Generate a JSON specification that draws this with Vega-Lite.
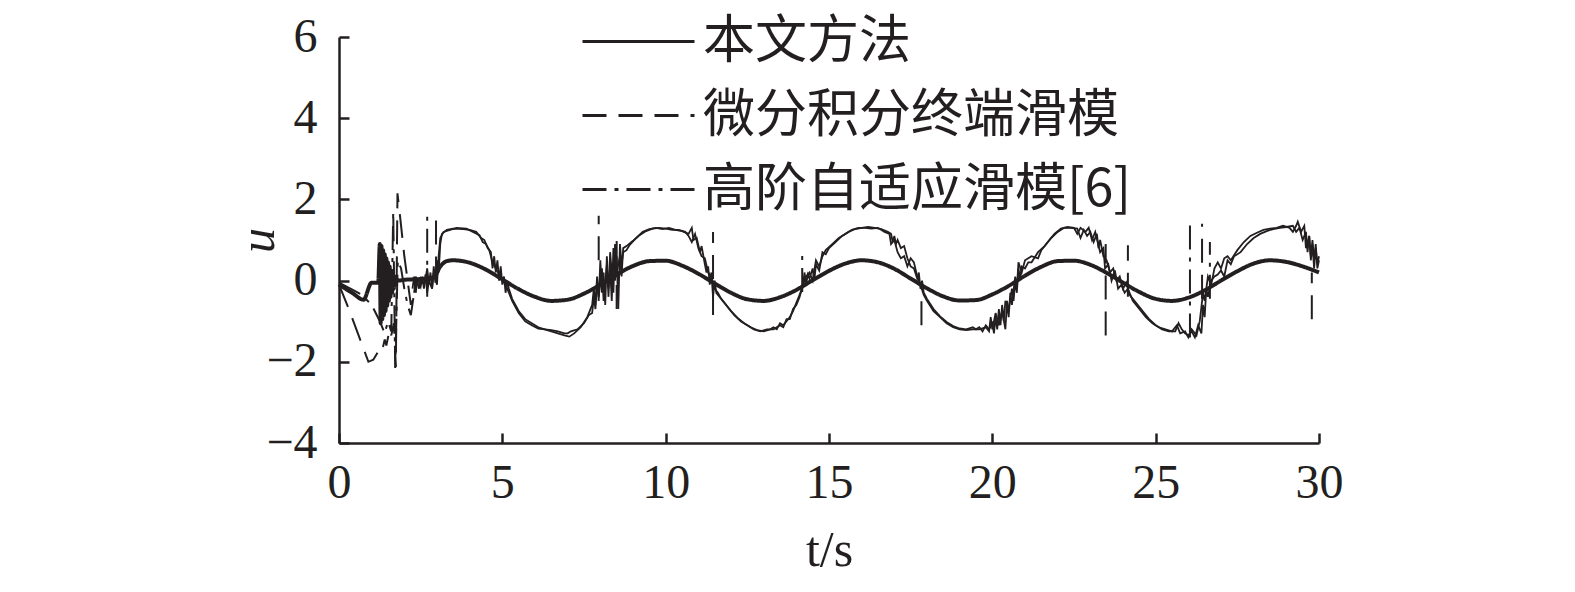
{
"$schema": "https://vega.github.io/schema/vega-lite/v6.json",
"width": 980, "height": 406,
"autosize": {"type": "none"},
"padding": {"left": 339, "top": 37, "right": 256, "bottom": 149},
"background": "white",
"config": {"view": {"stroke": null}, "font": "Liberation Serif"},
"datasets": {
"ours": [
{"s":"本文方法","t":0,"u":-0.1},{"s":"本文方法","t":0.4,"u":-0.3},{"s":"本文方法","t":0.75,"u":-0.47},{"s":"本文方法","t":1.0,"u":-0.05},{"s":"本文方法","t":1.2,"u":-0.05},
{"s":"本文方法","t":1.25,"u":0.9},{"s":"本文方法","t":1.275,"u":-1.05},{"s":"本文方法","t":1.3,"u":0.85},{"s":"本文方法","t":1.325,"u":-0.95},{"s":"本文方法","t":1.35,"u":0.75},{"s":"本文方法","t":1.375,"u":-0.85},{"s":"本文方法","t":1.4,"u":0.65},{"s":"本文方法","t":1.425,"u":-0.75},{"s":"本文方法","t":1.45,"u":0.55},{"s":"本文方法","t":1.475,"u":-0.62},{"s":"本文方法","t":1.5,"u":0.45},{"s":"本文方法","t":1.525,"u":-0.5},{"s":"本文方法","t":1.55,"u":0.35},{"s":"本文方法","t":1.575,"u":-0.4},{"s":"本文方法","t":1.6,"u":0.25},{"s":"本文方法","t":1.625,"u":-0.3},{"s":"本文方法","t":1.65,"u":0.18},{"s":"本文方法","t":1.675,"u":-0.2},{"s":"本文方法","t":1.7,"u":0.1},{"s":"本文方法","t":1.725,"u":-0.1},{"s":"本文方法","t":1.75,"u":0.05},{"s":"本文方法","t":1.8,"u":0.0},
{"s":"本文方法","t":2.0,"u":0.02},{"s":"本文方法","t":2.5,"u":0.04},{"s":"本文方法","t":2.9,"u":0.08},{"s":"本文方法","t":3.1,"u":0.35},{"s":"本文方法","t":3.3,"u":0.48},{"s":"本文方法","t":3.5,"u":0.5},{"s":"本文方法","t":4.0,"u":0.44},{"s":"本文方法","t":4.5,"u":0.27},{"s":"本文方法","t":5.0,"u":0.03},{"s":"本文方法","t":5.5,"u":-0.21},{"s":"本文方法","t":6.0,"u":-0.4},{"s":"本文方法","t":6.5,"u":-0.5},{"s":"本文方法","t":7.0,"u":-0.47},{"s":"本文方法","t":7.5,"u":-0.32},{"s":"本文方法","t":8.0,"u":-0.1},{"s":"本文方法","t":8.5,"u":0.15},{"s":"本文方法","t":9.0,"u":0.36},{"s":"本文方法","t":9.5,"u":0.48},{"s":"本文方法","t":10.0,"u":0.49},{"s":"本文方法","t":10.5,"u":0.37},{"s":"本文方法","t":11.0,"u":0.17},{"s":"本文方法","t":11.5,"u":-0.07},{"s":"本文方法","t":12.0,"u":-0.3},{"s":"本文方法","t":12.5,"u":-0.46},{"s":"本文方法","t":13.0,"u":-0.5},{"s":"本文方法","t":13.5,"u":-0.41},{"s":"本文方法","t":14.0,"u":-0.23},{"s":"本文方法","t":14.5,"u":0.01},{"s":"本文方法","t":15.0,"u":0.24},{"s":"本文方法","t":15.5,"u":0.42},{"s":"本文方法","t":16.0,"u":0.5},{"s":"本文方法","t":16.5,"u":0.45},{"s":"本文方法","t":17.0,"u":0.29},{"s":"本文方法","t":17.5,"u":0.05},{"s":"本文方法","t":18.0,"u":-0.19},{"s":"本文方法","t":18.5,"u":-0.39},{"s":"本文方法","t":19.0,"u":-0.49},{"s":"本文方法","t":19.5,"u":-0.48},{"s":"本文方法","t":20.0,"u":-0.34},{"s":"本文方法","t":20.5,"u":-0.13},{"s":"本文方法","t":21.0,"u":0.12},{"s":"本文方法","t":21.5,"u":0.34},{"s":"本文方法","t":22.0,"u":0.48},{"s":"本文方法","t":22.5,"u":0.49},{"s":"本文方法","t":23.0,"u":0.39},{"s":"本文方法","t":23.5,"u":0.19},{"s":"本文方法","t":24.0,"u":-0.05},{"s":"本文方法","t":24.5,"u":-0.28},{"s":"本文方法","t":25.0,"u":-0.45},{"s":"本文方法","t":25.5,"u":-0.5},{"s":"本文方法","t":26.0,"u":-0.42},{"s":"本文方法","t":26.5,"u":-0.24},{"s":"本文方法","t":27.0,"u":0.0},{"s":"本文方法","t":27.5,"u":0.23},{"s":"本文方法","t":28.0,"u":0.42},{"s":"本文方法","t":28.5,"u":0.5},{"s":"本文方法","t":29.0,"u":0.46},{"s":"本文方法","t":29.5,"u":0.35},{"s":"本文方法","t":30.0,"u":0.2}
],
"denseA": [
{"t":2.25,"u":-0.2},{"t":2.3,"u":0.1},{"t":2.35,"u":-0.3},{"t":2.4,"u":0.05},{"t":2.5,"u":-0.15},{"t":2.55,"u":0.1},{"t":2.6,"u":-0.2},{"t":2.7,"u":0.3},{"t":2.75,"u":-0.1},{"t":2.8,"u":0.2},{"t":2.85,"u":-0.2},{"t":2.9,"u":0.35},{"t":2.95,"u":-0.05},{"t":3.0,"u":0.5},{"t":3.05,"u":0.2},{"t":3.1,"u":0.9},{"t":3.15,"u":1.15},{"t":3.3,"u":1.25},{"t":3.5,"u":1.28},{"t":3.8,"u":1.27},{"t":4.0,"u":1.25},{"t":4.2,"u":1.2},{"t":4.35,"u":1.05},{"t":4.45,"u":1.0},{"t":4.55,"u":0.8},{"t":4.65,"u":0.7},{"t":4.7,"u":0.3},{"t":4.75,"u":0.6},{"t":4.8,"u":0.2},{"t":4.85,"u":0.5},{"t":4.9,"u":0.0},{"t":4.95,"u":0.35},{"t":5.0,"u":-0.1},{"t":5.05,"u":0.1},{"t":5.1,"u":-0.3},{"t":5.15,"u":0.0},{"t":5.2,"u":-0.2},{"t":5.3,"u":-0.45},{"t":5.4,"u":-0.6},{"t":5.5,"u":-0.75},{"t":5.7,"u":-0.95},{"t":5.9,"u":-1.05},{"t":6.1,"u":-1.15},{"t":6.3,"u":-1.2},{"t":6.5,"u":-1.25},{"t":6.7,"u":-1.3},{"t":6.9,"u":-1.35},{"t":7.05,"u":-1.38},{"t":7.2,"u":-1.3},{"t":7.4,"u":-1.15},{"t":7.6,"u":-0.9},{"t":7.75,"u":-0.6},{"t":7.8,"u":-0.2},{"t":7.85,"u":-0.6},{"t":7.9,"u":0.1},{"t":7.95,"u":-0.5},{"t":8.0,"u":0.5},{"t":8.05,"u":-0.3},{"t":8.1,"u":0.2},{"t":8.15,"u":-0.6},{"t":8.2,"u":0.6},{"t":8.25,"u":-0.2},{"t":8.3,"u":0.3},{"t":8.35,"u":-0.5},{"t":8.4,"u":0.8},{"t":8.45,"u":0.0},{"t":8.5,"u":0.6},{"t":8.55,"u":-0.7},{"t":8.6,"u":0.9},{"t":8.65,"u":0.4},{"t":8.7,"u":0.7},{"t":8.8,"u":0.75},{"t":8.9,"u":0.88},{"t":9.1,"u":1.05},{"t":9.3,"u":1.2},{"t":9.5,"u":1.27},{"t":9.7,"u":1.3},{"t":9.9,"u":1.27},{"t":10.1,"u":1.3},{"t":10.3,"u":1.25},{"t":10.5,"u":1.22},{"t":10.7,"u":1.15},{"t":10.8,"u":1.3},{"t":10.85,"u":1.0},{"t":10.95,"u":1.05},{"t":11.05,"u":0.7},{"t":11.1,"u":0.85},{"t":11.2,"u":0.4},{"t":11.25,"u":0.2},{"t":11.3,"u":0.35},{"t":11.35,"u":-0.1},{"t":11.4,"u":0.2},{"t":11.45,"u":-0.4},{"t":11.5,"u":0.0},{"t":11.55,"u":-0.3},{"t":11.65,"u":-0.4},{"t":11.8,"u":-0.55},{"t":12.0,"u":-0.75},{"t":12.2,"u":-0.92},{"t":12.4,"u":-1.05},{"t":12.6,"u":-1.15},{"t":12.8,"u":-1.22},{"t":13.0,"u":-1.25},{"t":13.2,"u":-1.2},{"t":13.3,"u":-1.15},{"t":13.4,"u":-1.2},{"t":13.5,"u":-1.05},{"t":13.6,"u":-1.1},{"t":13.7,"u":-1.0},{"t":13.8,"u":-0.9},{"t":13.9,"u":-0.75},{"t":14.0,"u":-0.55},{"t":14.1,"u":-0.35},{"t":14.2,"u":-0.15},{"t":14.25,"u":0.2},{"t":14.3,"u":-0.1},{"t":14.35,"u":0.15},{"t":14.4,"u":0.05},{"t":14.5,"u":0.3},{"t":14.55,"u":0.0},{"t":14.6,"u":0.4},{"t":14.7,"u":0.25},{"t":14.8,"u":0.7},{"t":14.9,"u":0.65},{"t":15.0,"u":0.8},{"t":15.2,"u":0.95},{"t":15.4,"u":1.1},{"t":15.6,"u":1.2},{"t":15.8,"u":1.27},{"t":16.0,"u":1.3},{"t":16.2,"u":1.32},{"t":16.4,"u":1.3},{"t":16.6,"u":1.27},{"t":16.8,"u":1.2},{"t":16.9,"u":1.15},{"t":16.95,"u":0.95},{"t":17.0,"u":1.1},{"t":17.05,"u":0.9},{"t":17.1,"u":1.0},{"t":17.2,"u":0.8},{"t":17.3,"u":0.85},{"t":17.4,"u":0.55},{"t":17.5,"u":0.35},{"t":17.6,"u":0.3},{"t":17.7,"u":0.05},{"t":17.75,"u":0.2},{"t":17.8,"u":-0.2},{"t":17.85,"u":0.0},{"t":17.9,"u":-0.3},{"t":18.0,"u":-0.45},{"t":18.2,"u":-0.7},{"t":18.4,"u":-0.88},{"t":18.6,"u":-1.02},{"t":18.8,"u":-1.12},{"t":19.0,"u":-1.18},{"t":19.2,"u":-1.2},{"t":19.4,"u":-1.15},{"t":19.5,"u":-1.2},{"t":19.6,"u":-1.15},{"t":19.7,"u":-1.25},{"t":19.8,"u":-1.1},{"t":19.9,"u":-1.2},{"t":20.0,"u":-1.05},{"t":20.05,"u":-1.3},{"t":20.1,"u":-0.9},{"t":20.15,"u":-1.2},{"t":20.2,"u":-0.7},{"t":20.25,"u":-1.1},{"t":20.3,"u":-0.6},{"t":20.35,"u":-1.0},{"t":20.4,"u":-0.5},{"t":20.5,"u":-0.7},{"t":20.6,"u":-0.2},{"t":20.65,"u":-0.5},{"t":20.7,"u":0.0},{"t":20.75,"u":-0.3},{"t":20.8,"u":0.3},{"t":20.85,"u":0.05},{"t":20.9,"u":0.35},{"t":21.0,"u":0.3},{"t":21.1,"u":0.45},{"t":21.2,"u":0.45},{"t":21.4,"u":0.7},{"t":21.6,"u":0.85},{"t":21.8,"u":1.05},{"t":22.0,"u":1.2},{"t":22.2,"u":1.3},{"t":22.4,"u":1.3},{"t":22.6,"u":1.28},{"t":22.7,"u":1.05},{"t":22.8,"u":1.25},{"t":22.9,"u":1.1},{"t":23.0,"u":1.2},{"t":23.1,"u":0.95},{"t":23.2,"u":1.15},{"t":23.25,"u":0.8},{"t":23.3,"u":1.0},{"t":23.4,"u":0.6},{"t":23.5,"u":0.5},{"t":23.6,"u":0.2},{"t":23.7,"u":0.3},{"t":23.8,"u":0.0},{"t":23.9,"u":0.1},{"t":24.0,"u":-0.2},{"t":24.1,"u":-0.05},{"t":24.2,"u":-0.35},{"t":24.4,"u":-0.55},{"t":24.6,"u":-0.75},{"t":24.8,"u":-0.95},{"t":25.0,"u":-1.1},{"t":25.2,"u":-1.2},{"t":25.4,"u":-1.25},{"t":25.6,"u":-1.25},{"t":25.7,"u":-1.05},{"t":25.8,"u":-1.2},{"t":25.9,"u":-1.3},{"t":26.0,"u":-1.35},{"t":26.1,"u":-1.25},{"t":26.2,"u":-1.4},{"t":26.3,"u":-1.1},{"t":26.4,"u":-1.3},{"t":26.45,"u":-0.6},{"t":26.5,"u":-0.9},{"t":26.55,"u":-0.2},{"t":26.6,"u":-0.4},{"t":26.7,"u":0.0},{"t":26.8,"u":0.1},{"t":26.9,"u":0.15},{"t":27.0,"u":0.25},{"t":27.1,"u":0.1},{"t":27.2,"u":0.5},{"t":27.3,"u":0.4},{"t":27.4,"u":0.6},{"t":27.6,"u":0.7},{"t":27.8,"u":0.9},{"t":28.0,"u":1.05},{"t":28.2,"u":1.15},{"t":28.4,"u":1.22},{"t":28.6,"u":1.27},{"t":28.8,"u":1.3},{"t":29.0,"u":1.32},{"t":29.2,"u":1.35},{"t":29.3,"u":1.2},{"t":29.4,"u":1.3},{"t":29.5,"u":1.0},{"t":29.6,"u":1.2},{"t":29.65,"u":0.7},{"t":29.7,"u":1.1},{"t":29.75,"u":0.5},{"t":29.8,"u":0.9},{"t":29.85,"u":0.3},{"t":29.9,"u":0.8},{"t":29.95,"u":0.4},{"t":30.0,"u":0.6}
],
"denseB": [
{"t":2.3,"u":-0.3},{"t":2.35,"u":0.1},{"t":2.45,"u":-0.2},{"t":2.5,"u":0.05},{"t":2.6,"u":-0.1},{"t":2.65,"u":0.15},{"t":2.7,"u":-0.3},{"t":2.75,"u":0.0},{"t":2.85,"u":-0.2},{"t":2.9,"u":0.2},{"t":3.0,"u":-0.1},{"t":3.05,"u":0.6},{"t":3.1,"u":1.05},{"t":3.2,"u":1.2},{"t":3.4,"u":1.25},{"t":3.6,"u":1.3},{"t":3.9,"u":1.28},{"t":4.1,"u":1.2},{"t":4.3,"u":1.12},{"t":4.4,"u":0.95},{"t":4.5,"u":0.9},{"t":4.6,"u":0.75},{"t":4.7,"u":0.45},{"t":4.8,"u":0.3},{"t":4.9,"u":0.15},{"t":5.0,"u":0.05},{"t":5.1,"u":-0.1},{"t":5.2,"u":-0.3},{"t":5.3,"u":-0.5},{"t":5.5,"u":-0.8},{"t":5.7,"u":-1.0},{"t":5.9,"u":-1.1},{"t":6.1,"u":-1.18},{"t":6.3,"u":-1.2},{"t":6.5,"u":-1.22},{"t":6.7,"u":-1.25},{"t":6.9,"u":-1.3},{"t":7.0,"u":-1.3},{"t":7.1,"u":-1.25},{"t":7.3,"u":-1.2},{"t":7.5,"u":-1.05},{"t":7.65,"u":-0.85},{"t":7.75,"u":-0.8},{"t":7.8,"u":-0.4},{"t":7.85,"u":-0.7},{"t":7.9,"u":0.0},{"t":7.95,"u":-0.4},{"t":8.05,"u":0.3},{"t":8.1,"u":-0.5},{"t":8.2,"u":0.4},{"t":8.25,"u":-0.4},{"t":8.3,"u":0.7},{"t":8.4,"u":-0.3},{"t":8.45,"u":0.9},{"t":8.5,"u":0.2},{"t":8.6,"u":0.6},{"t":8.65,"u":0.1},{"t":8.7,"u":0.8},{"t":8.8,"u":0.85},{"t":9.0,"u":0.98},{"t":9.2,"u":1.12},{"t":9.4,"u":1.22},{"t":9.6,"u":1.28},{"t":9.8,"u":1.3},{"t":10.0,"u":1.28},{"t":10.2,"u":1.25},{"t":10.4,"u":1.25},{"t":10.6,"u":1.2},{"t":10.7,"u":1.1},{"t":10.8,"u":0.95},{"t":10.9,"u":1.15},{"t":11.0,"u":0.8},{"t":11.1,"u":0.6},{"t":11.2,"u":0.55},{"t":11.3,"u":0.2},{"t":11.4,"u":0.1},{"t":11.5,"u":-0.2},{"t":11.6,"u":-0.3},{"t":11.7,"u":-0.45},{"t":11.9,"u":-0.65},{"t":12.1,"u":-0.85},{"t":12.3,"u":-1.0},{"t":12.5,"u":-1.1},{"t":12.7,"u":-1.2},{"t":12.9,"u":-1.25},{"t":13.1,"u":-1.2},{"t":13.3,"u":-1.2},{"t":13.5,"u":-1.1},{"t":13.6,"u":-1.15},{"t":13.7,"u":-0.95},{"t":13.8,"u":-0.95},{"t":13.9,"u":-0.7},{"t":14.0,"u":-0.6},{"t":14.1,"u":-0.4},{"t":14.2,"u":-0.1},{"t":14.3,"u":0.1},{"t":14.4,"u":0.2},{"t":14.5,"u":0.0},{"t":14.6,"u":0.5},{"t":14.7,"u":0.35},{"t":14.8,"u":0.6},{"t":14.9,"u":0.75},{"t":15.1,"u":0.9},{"t":15.3,"u":1.05},{"t":15.5,"u":1.15},{"t":15.7,"u":1.25},{"t":15.9,"u":1.3},{"t":16.1,"u":1.3},{"t":16.3,"u":1.28},{"t":16.5,"u":1.3},{"t":16.7,"u":1.2},{"t":16.85,"u":1.15},{"t":16.9,"u":0.9},{"t":17.0,"u":1.0},{"t":17.1,"u":0.7},{"t":17.2,"u":0.55},{"t":17.3,"u":0.6},{"t":17.4,"u":0.35},{"t":17.5,"u":0.55},{"t":17.6,"u":0.45},{"t":17.7,"u":0.1},{"t":17.8,"u":-0.1},{"t":17.9,"u":-0.35},{"t":18.0,"u":-0.5},{"t":18.2,"u":-0.75},{"t":18.4,"u":-0.9},{"t":18.6,"u":-1.05},{"t":18.8,"u":-1.15},{"t":19.0,"u":-1.2},{"t":19.2,"u":-1.22},{"t":19.4,"u":-1.2},{"t":19.6,"u":-1.2},{"t":19.8,"u":-1.15},{"t":19.9,"u":-1.25},{"t":19.95,"u":-0.9},{"t":20.0,"u":-1.2},{"t":20.1,"u":-0.8},{"t":20.2,"u":-1.1},{"t":20.3,"u":-0.75},{"t":20.4,"u":-1.2},{"t":20.45,"u":-0.5},{"t":20.5,"u":-0.9},{"t":20.55,"u":-0.3},{"t":20.6,"u":-0.6},{"t":20.7,"u":0.1},{"t":20.75,"u":-0.2},{"t":20.8,"u":0.45},{"t":20.9,"u":0.2},{"t":21.0,"u":0.5},{"t":21.2,"u":0.6},{"t":21.4,"u":0.55},{"t":21.5,"u":0.75},{"t":21.7,"u":0.95},{"t":21.9,"u":1.15},{"t":22.1,"u":1.28},{"t":22.3,"u":1.32},{"t":22.5,"u":1.3},{"t":22.6,"u":1.15},{"t":22.7,"u":1.3},{"t":22.85,"u":1.2},{"t":22.95,"u":1.3},{"t":23.05,"u":1.0},{"t":23.15,"u":1.2},{"t":23.3,"u":0.7},{"t":23.4,"u":0.8},{"t":23.45,"u":0.3},{"t":23.55,"u":0.4},{"t":23.65,"u":0.0},{"t":23.75,"u":0.25},{"t":23.85,"u":-0.2},{"t":23.95,"u":-0.1},{"t":24.05,"u":-0.3},{"t":24.15,"u":-0.2},{"t":24.3,"u":-0.5},{"t":24.5,"u":-0.7},{"t":24.7,"u":-0.9},{"t":24.9,"u":-1.05},{"t":25.1,"u":-1.15},{"t":25.3,"u":-1.2},{"t":25.5,"u":-1.25},{"t":25.65,"u":-1.1},{"t":25.75,"u":-1.3},{"t":25.9,"u":-1.25},{"t":26.0,"u":-1.4},{"t":26.1,"u":-1.2},{"t":26.25,"u":-1.35},{"t":26.35,"u":-1.0},{"t":26.45,"u":-0.3},{"t":26.5,"u":-0.5},{"t":26.6,"u":0.1},{"t":26.7,"u":-0.1},{"t":26.8,"u":0.3},{"t":26.9,"u":0.45},{"t":27.0,"u":0.3},{"t":27.1,"u":0.55},{"t":27.2,"u":0.6},{"t":27.3,"u":0.5},{"t":27.5,"u":0.75},{"t":27.7,"u":0.95},{"t":27.9,"u":1.1},{"t":28.1,"u":1.18},{"t":28.3,"u":1.25},{"t":28.5,"u":1.28},{"t":28.7,"u":1.3},{"t":28.9,"u":1.35},{"t":29.1,"u":1.3},{"t":29.2,"u":1.2},{"t":29.3,"u":1.35},{"t":29.35,"u":1.45},{"t":29.45,"u":1.2},{"t":29.55,"u":1.35},{"t":29.6,"u":0.8},{"t":29.7,"u":1.1},{"t":29.75,"u":0.6},{"t":29.8,"u":1.0},{"t":29.85,"u":0.5},{"t":29.9,"u":0.9},{"t":29.95,"u":0.3},{"t":30.0,"u":0.5}
],
"sparse": [
{"s":"微分积分终端滑模","t":0,"u":-0.1},{"s":"微分积分终端滑模","t":0.3,"u":-0.7},{"s":"微分积分终端滑模","t":0.6,"u":-1.35},{"s":"微分积分终端滑模","t":0.9,"u":-2.0},{"s":"微分积分终端滑模","t":1.05,"u":-1.95},{"s":"微分积分终端滑模","t":1.2,"u":-1.75},{"s":"微分积分终端滑模","t":1.3,"u":-1.8},{"s":"微分积分终端滑模","t":1.4,"u":-1.45},{"s":"微分积分终端滑模","t":1.45,"u":-1.6},{"s":"微分积分终端滑模","t":1.55,"u":-1.2},{"s":"微分积分终端滑模","t":1.6,"u":-1.35},{"s":"微分积分终端滑模","t":1.68,"u":-1.05},{"s":"微分积分终端滑模","t":1.74,"u":-2.13},{"s":"微分积分终端滑模","t":1.79,"u":2.15},{"s":"微分积分终端滑模","t":1.88,"u":1.5},{"s":"微分积分终端滑模","t":2.0,"u":0.6},{"s":"微分积分终端滑模","t":2.1,"u":0.0},{"s":"微分积分终端滑模","t":2.2,"u":-0.6},{"s":"微分积分终端滑模","t":2.25,"u":-0.2},
{"s":"高阶自适应滑模[6]","t":0,"u":-0.05},{"s":"高阶自适应滑模[6]","t":0.35,"u":-0.2},{"s":"高阶自适应滑模[6]","t":0.7,"u":-0.35},{"s":"高阶自适应滑模[6]","t":1.0,"u":-0.6},{"s":"高阶自适应滑模[6]","t":1.25,"u":-1.0},{"s":"高阶自适应滑模[6]","t":1.4,"u":-1.3},{"s":"高阶自适应滑模[6]","t":1.5,"u":-1.0},{"s":"高阶自适应滑模[6]","t":1.6,"u":-1.25},{"s":"高阶自适应滑模[6]","t":1.66,"u":1.7},{"s":"高阶自适应滑模[6]","t":1.72,"u":-2.15},{"s":"高阶自适应滑模[6]","t":1.8,"u":0.5},{"s":"高阶自适应滑模[6]","t":1.9,"u":0.3},{"s":"高阶自适应滑模[6]","t":2.0,"u":-0.2},{"s":"高阶自适应滑模[6]","t":2.1,"u":-0.6},{"s":"高阶自适应滑模[6]","t":2.2,"u":-0.85},{"s":"高阶自适应滑模[6]","t":2.3,"u":-0.3}
],
"spikes": [
{"s":"微分积分终端滑模","t":2.97,"u":0.0,"u2":1.6},
{"s":"高阶自适应滑模[6]","t":2.7,"u":-0.4,"u2":1.7},
{"s":"微分积分终端滑模","t":7.95,"u":0.5,"u2":1.6},
{"s":"高阶自适应滑模[6]","t":8.5,"u":-0.7,"u2":1.1},
{"s":"微分积分终端滑模","t":11.45,"u":-0.85,"u2":1.2},
{"s":"高阶自适应滑模[6]","t":14.18,"u":-0.28,"u2":0.7},
{"s":"微分积分终端滑模","t":17.83,"u":-1.1,"u2":-0.1},
{"s":"微分积分终端滑模","t":23.47,"u":-1.35,"u2":0.9},
{"s":"微分积分终端滑模","t":24.15,"u":-0.4,"u2":0.87},
{"s":"高阶自适应滑模[6]","t":26.05,"u":-1.4,"u2":1.45},
{"s":"微分积分终端滑模","t":26.42,"u":-0.45,"u2":1.4},
{"s":"高阶自适应滑模[6]","t":26.66,"u":-0.45,"u2":0.95},
{"s":"微分积分终端滑模","t":29.78,"u":-0.95,"u2":0.2}
]
},
"encoding": {
"x": {"field": "t", "type": "quantitative", "scale": {"domain": [0, 30], "nice": false, "zero": false},
 "axis": {"values": [0,5,10,15,20,25,30], "title": "t/s", "grid": false, "domainColor": "#231f20", "domainWidth": 2.5, "tickColor": "#231f20", "tickWidth": 2.5, "tickSize": -10, "labelFont": "Liberation Serif", "labelFontSize": 48, "labelColor": "#231f20", "labelPadding": 26, "labelFlush": false, "labelOverlap": false, "titleFont": "Liberation Serif", "titleFontSize": 50, "titleFontWeight": "normal", "titleColor": "#231f20", "titleX": 490, "titleY": 107, "titleBaseline": "middle", "titleAlign": "center"}},
"y": {"field": "u", "type": "quantitative", "scale": {"domain": [-4, 6], "nice": false, "zero": false},
 "axis": {"values": [-4,-2,0,2,4,6], "title": "u", "grid": false, "domainColor": "#231f20", "domainWidth": 2.5, "tickColor": "#231f20", "tickWidth": 2.5, "tickSize": -10, "labelFont": "Liberation Serif", "labelFontSize": 48, "labelColor": "#231f20", "labelPadding": 32, "labelFlush": false, "labelOverlap": false, "titleFont": "Liberation Serif", "titleFontSize": 50, "titleFontWeight": "normal", "titleFontStyle": "italic", "titleColor": "#231f20", "titleX": -81, "titleY": 203, "titleBaseline": "middle", "titleAlign": "center", "titleAngle": -90}}
},
"layer": [
{"data": {"name": "denseA"}, "mark": {"type": "line", "color": "#231f20", "strokeWidth": 1.8}},
{"data": {"name": "denseB"}, "mark": {"type": "line", "color": "#231f20", "strokeWidth": 1.8}},
{"data": {"name": "sparse"}, "mark": {"type": "line", "color": "#231f20", "strokeWidth": 2},
 "encoding": {"detail": {"field": "s"},
 "strokeDash": {"field": "s", "type": "nominal", "scale": {"domain": ["本文方法", "微分积分终端滑模", "高阶自适应滑模[6]"], "range": [[1,0],[24,12],[24,8,4,8]]},
  "legend": {"title": null, "orient": "none", "legendX": 242, "legendY": -25, "symbolType": "M-1,0H3", "symbolSize": 3136, "symbolStrokeWidth": 3, "symbolStrokeColor": "#231f20", "labelFont": "Noto Sans CJK SC", "labelFontSize": 52, "labelColor": "#231f20", "labelOffset": 63, "rowPadding": 18, "padding": 0, "labelLimit": 0}}}},
{"data": {"name": "spikes"}, "mark": {"type": "rule", "color": "#231f20", "strokeWidth": 2},
 "encoding": {"y2": {"field": "u2"},
 "strokeDash": {"field": "s", "type": "nominal", "scale": {"domain": ["本文方法", "微分积分终端滑模", "高阶自适应滑模[6]"], "range": [[1,0],[24,12],[24,8,4,8]]},
  "legend": {"title": null, "orient": "none", "legendX": 242, "legendY": -25, "symbolType": "M-1,0H3", "symbolSize": 3136, "symbolStrokeWidth": 3, "symbolStrokeColor": "#231f20", "labelFont": "Noto Sans CJK SC", "labelFontSize": 52, "labelColor": "#231f20", "labelOffset": 63, "rowPadding": 18, "padding": 0, "labelLimit": 0}}}},
{"data": {"name": "ours"}, "mark": {"type": "line", "color": "#231f20", "strokeWidth": 4, "interpolate": "monotone"},
 "encoding": {
 "strokeDash": {"field": "s", "type": "nominal", "scale": {"domain": ["本文方法", "微分积分终端滑模", "高阶自适应滑模[6]"], "range": [[1,0],[24,12],[24,8,4,8]]},
  "legend": {"title": null, "orient": "none", "legendX": 242, "legendY": -25, "symbolType": "M-1,0H3", "symbolSize": 3136, "symbolStrokeWidth": 3, "symbolStrokeColor": "#231f20", "labelFont": "Noto Sans CJK SC", "labelFontSize": 52, "labelColor": "#231f20", "labelOffset": 63, "rowPadding": 18, "padding": 0, "labelLimit": 0}}}}
]
}
